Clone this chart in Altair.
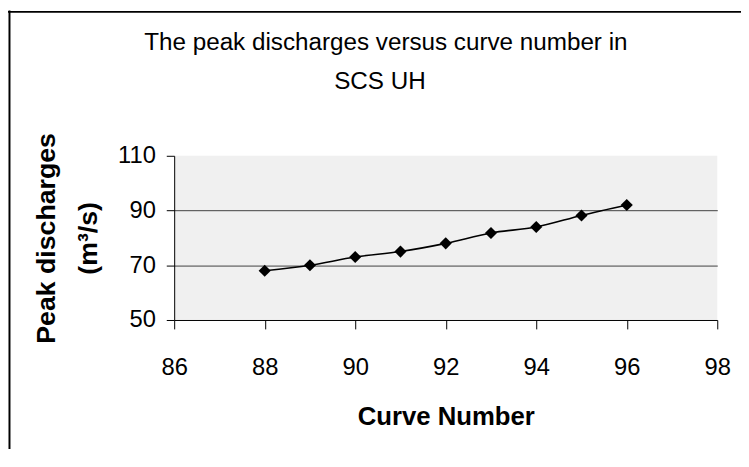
import altair as alt
import pandas as pd

curve_number = [88, 89, 90, 91, 92, 93, 94, 95, 96]
peak_discharge = [68, 70, 73, 75, 78, 81.8, 84, 88.2, 92]
x_ticks = [86, 88, 90, 92, 94, 96, 98]
y_ticks = [50, 70, 90, 110]
title_lines = ["The peak discharges versus curve number in", "SCS UH"]

df = pd.DataFrame({"cn": curve_number, "q": peak_discharge})

FONT = "Liberation Sans"

x_enc = alt.X(
    "cn:Q",
    scale=alt.Scale(domain=[86, 98], nice=False, zero=False),
    axis=alt.Axis(
        values=x_ticks, grid=False, title="Curve Number",
        labelFont=FONT, labelFontSize=24, labelColor="black",
        labelBaseline="alphabetic", labelPadding=46, tickSize=9,
        tickColor="black", domainColor="black",
        titleFont=FONT, titleFontSize=26, titleFontWeight="bold", titleColor="black",
        titleBaseline="alphabetic", titleY=106, labelFlush=False,
    ),
)
y_enc = alt.Y(
    "q:Q",
    scale=alt.Scale(domain=[50, 110], nice=False, zero=False),
    axis=alt.Axis(
        values=y_ticks, grid=True, gridColor="#404040", gridWidth=1,
        gridOpacity={"condition": {"test": "datum.value >= 110 || datum.value <= 50", "value": 0}, "value": 1},
        title=["Peak discharges", "(m³/s)"],
        labelFont=FONT, labelFontSize=24, labelColor="black", labelPadding=11,
        tickSize=8, tickColor="black", domainColor="black",
        titleFont=FONT, titleFontSize=27, titleFontWeight="bold", titleColor="black",
        titleAngle=-90, titleBaseline="middle", titleAlign="center",
        titleX=-129, titleY=83, titleLineHeight=42, labelFlush=False,
    ),
)

base = alt.Chart(df)
line = base.mark_line(color="black", strokeWidth=1.6, interpolate="monotone").encode(x=x_enc, y=y_enc)
pts = base.mark_point(shape="diamond", filled=True, color="black", size=150, opacity=1).encode(x="cn:Q", y="q:Q")

one = pd.DataFrame({"a": [0]})
frame_left = alt.Chart(one).mark_rule(color="black", strokeWidth=2).encode(
    x=alt.value(-166.5), y=alt.value(-147), y2=alt.value(320))
frame_top = alt.Chart(one).mark_rule(color="black", strokeWidth=2).encode(
    x=alt.value(-168), x2=alt.value(580), y=alt.value(-145.5))

title1 = alt.Chart(one).mark_text(
    text=title_lines[0], font=FONT, fontSize=24.5, color="black", align="center", baseline="alphabetic"
).encode(x=alt.value(214), y=alt.value(-107))
title2 = alt.Chart(one).mark_text(
    text=title_lines[1], font=FONT, fontSize=24.5, color="black", align="center", baseline="alphabetic"
).encode(x=alt.value(208), y=alt.value(-68))

chart = alt.layer(line, pts, frame_left, frame_top, title1, title2).properties(
    width=549, height=166,
    padding={"left": 168, "top": 147, "right": 24, "bottom": 128},
    autosize=alt.AutoSizeParams(type="none"),
    background="white",
).configure_view(fill="#F0F0F0", stroke=None)

chart.save("out.html", embed_options={"renderer": "svg", "actions": False})
